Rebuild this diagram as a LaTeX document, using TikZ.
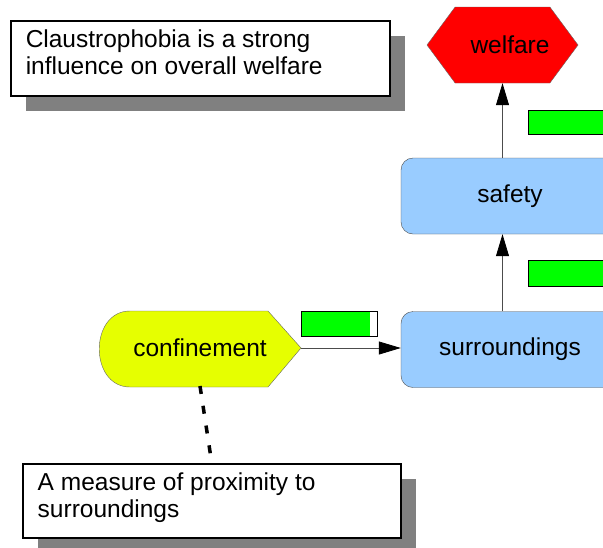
\documentclass[tikz,border=0pt]{standalone}
\usepackage{fontspec}
\setmainfont{Liberation Sans}
\usetikzlibrary{shapes.symbols, shadows, arrows.meta}
\definecolor{welfarered}{RGB}{255,0,0}
\definecolor{confyellow}{RGB}{230,255,0}
\definecolor{stockblue}{RGB}{153,204,255}
\definecolor{gaugegreen}{RGB}{0,255,0}
\definecolor{shadowgray}{RGB}{128,128,128}

\begin{document}
\begin{tikzpicture}[x=1pt, y=1pt, font=\fontsize{24.5}{27}\selectfont,
    note/.style={draw, line width=1.5pt, fill=white, inner xsep=15pt, inner ysep=9pt, anchor=north west,
        drop shadow={shadow xshift=15pt, shadow yshift=-15pt, fill=shadowgray, opacity=1}},
    stock/.style={draw=black!70, fill=stockblue, rounded corners=12pt, minimum width=218pt, minimum height=76pt},
    flow/.style={draw=black!70, line width=0.8pt, -{Triangle[length=22pt, width=13pt, color=black]}},
    gauge/.style={draw, line width=0.8pt, fill=gaugegreen}]
    \path[use as bounding box, clip] (0,0) rectangle (603,-547);
    % notes
    \node[note] (claustro) at (10,-20) {\parbox[c][57pt][t]{349pt}{\raggedright Claustrophobia is a strong\\influence on overall welfare}};
    \node[note] (measure) at (22,-463) {\parbox[c][56pt][t]{348pt}{\raggedright A measure of proximity to\\surroundings}};
    % variables
    \node[draw=black!60, fill=welfarered, shape=signal, signal to=east and west, signal pointer angle=107,
        inner xsep=0pt, minimum width=151pt, minimum height=76pt] (welfare) at (502.5,-45) {\hspace*{15pt}welfare};
    \node[stock] (safety) at (510,-196) {safety};
    \node[stock] (surroundings) at (510,-349.5) {surroundings};
    \filldraw[draw=black!60, fill=confyellow] (130,-311) -- (268,-311) -- (301,-348) -- (268,-387)
        -- (130,-387) .. controls (89,-387) and (89,-311) .. (130,-311) -- cycle;
    \node[minimum width=202pt, minimum height=76pt, outer sep=0pt] (confinement) at (200,-348) {confinement};
    % links
    \draw[flow] (confinement.east) -- (confinement.east -| surroundings.west);
    \draw[flow] (surroundings.north -| welfare.south) -- (safety.south -| welfare.south);
    \draw[flow] (safety.north -| welfare.south) -- (welfare.south);
    \draw[line width=3.5pt, dash pattern=on 8pt off 12pt] (confinement.south) -- (measure.north);
    % gauges
    \draw[gauge] (528,-110) rectangle (640,-134);
    \draw[gauge] (528,-260) rectangle (640,-286);
    \fill[gaugegreen] (301,-311) rectangle (370,-336);
    \draw[line width=0.8pt] (301,-311) rectangle (377,-336);
\end{tikzpicture}
\end{document}
